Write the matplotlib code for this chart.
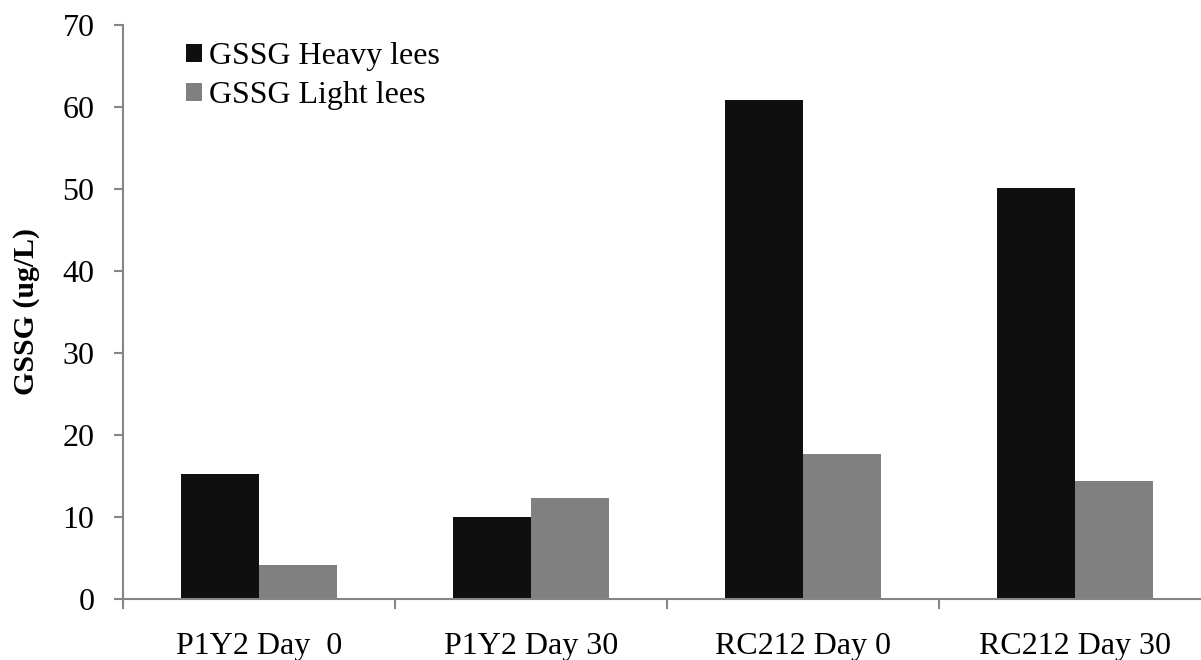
import numpy as np
import matplotlib.pyplot as plt

# GSSG measurements per sample (ug/L)
samples = ["P1Y2 Day  0", "P1Y2 Day 30", "RC212 Day 0", "RC212 Day 30"]
heavy_lees = [15.2, 10.0, 60.8, 50.1]
light_lees = [4.1, 12.3, 17.6, 14.4]

plt.rcParams['font.family'] = ['Liberation Serif', 'DejaVu Serif']
axis_grey = "#868686"

fig = plt.figure(figsize=(12.01, 6.6), dpi=100)
ax = fig.add_axes([123 / 1201, 61.5 / 660, 1088 / 1201, 573.5 / 660])

x = np.arange(len(samples))
w = 0.285
ax.bar(x - w / 2, heavy_lees, w, color="#0f0f0f", label="GSSG Heavy lees")
ax.bar(x + w / 2, light_lees, w, color="#808080", label="GSSG Light lees")

ax.set_ylim(0, 70)
ax.set_xlim(-0.5, len(samples) - 0.5)
ax.set_yticks(range(0, 71, 10))

# boundary ticks between groups, labels centred on each group
ax.set_xticks(np.arange(-0.5, len(samples), 1.0))
ax.set_xticklabels([])
ax.set_xticks(x, minor=True)
ax.set_xticklabels(samples, minor=True)
ax.tick_params(axis="x", which="minor", length=0, pad=24, labelsize=23)
ax.tick_params(axis="x", which="major", length=7, width=1.5, color=axis_grey)
ax.tick_params(axis="y", length=6.5, width=1.5, color=axis_grey, labelsize=23, pad=14)

for side in ["top", "right"]:
    ax.spines[side].set_visible(False)
for side in ["left", "bottom"]:
    ax.spines[side].set_color(axis_grey)
    ax.spines[side].set_linewidth(1.5)

ax.set_ylabel("GSSG (ug/L)", fontsize=21.5, fontweight="bold", labelpad=16)

ax.legend(loc="upper left", bbox_to_anchor=(0.046, 0.992), frameon=False,
          fontsize=23, handlelength=0.5, handleheight=0.5, handletextpad=0.22,
          labelspacing=0.3, borderaxespad=0)

fig.savefig("out.png", dpi=100)
